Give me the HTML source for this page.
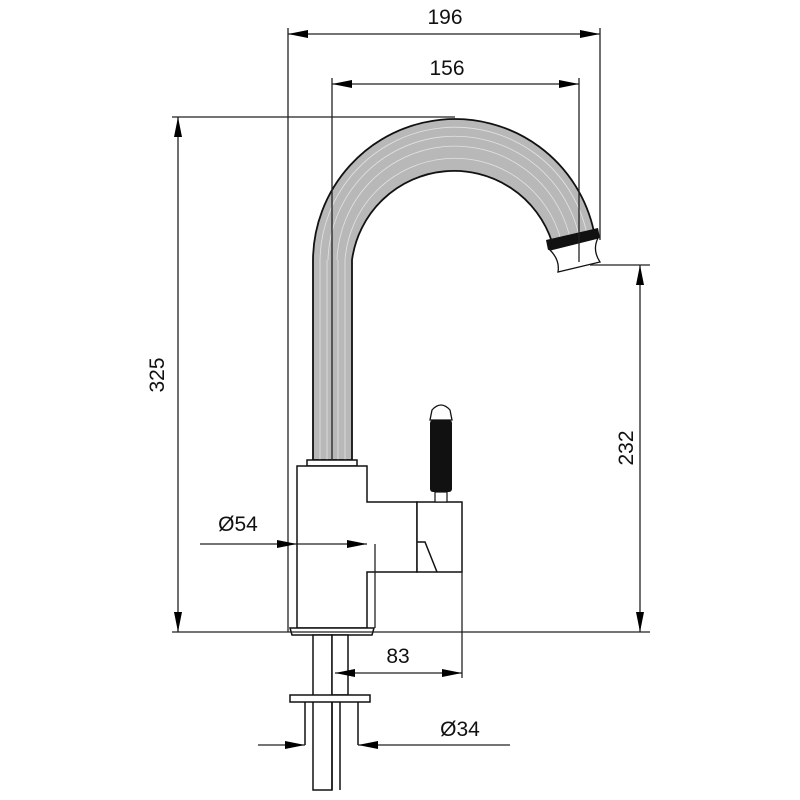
<!DOCTYPE html>
<html><head><meta charset="utf-8"><style>html,body{margin:0;padding:0;background:#fff}svg{display:block}</style></head>
<body>
<svg width="800" height="800" viewBox="0 0 800 800" xmlns="http://www.w3.org/2000/svg" font-family="Liberation Sans, sans-serif">
<defs>
<marker id="a" viewBox="0 0 20 8" refX="20" refY="4" markerWidth="20" markerHeight="8" markerUnits="userSpaceOnUse" orient="auto-start-reverse"><path d="M0,0 L20,4 L0,8 Z" fill="#000"/></marker>
</defs>
<!-- spout -->
<path d="M313,460 L313,260 A142,142 0 0 1 594,232 L552,242 A103,103 0 0 0 352,260 L352,460 Z" fill="#b8b8b8" stroke="#111" stroke-width="1.8"/>
<g stroke="#eee" stroke-width="0.8" fill="none" opacity="0.8">
<line x1="320" y1="260" x2="320" y2="460"/><line x1="327" y1="260" x2="327" y2="460"/><line x1="338" y1="260" x2="338" y2="460"/><line x1="345" y1="260" x2="345" y2="460"/>
<path d="M320,260 A135,135 0 0 1 587,234"/><path d="M328,260 A127,127 0 0 1 579,236"/><path d="M337,260 A118,118 0 0 1 570,238"/><path d="M345,260 A110,110 0 0 1 561,240"/>
</g>
<!-- nozzle -->
<path d="M546,240 L598,228 L600,238 L548,250 Z" fill="#111"/>
<path d="M550,250 L598,238 Q592,250 600,262 L558,272 Q560,260 550,250 Z" fill="#fff" stroke="#111" stroke-width="1.3"/>
<!-- body -->
<g stroke="#111" stroke-width="1.5" fill="#fff">
<rect x="307" y="460" width="50" height="6"/>
<path d="M297,466 L367,466 L367,502 L417,502 L417,572 L367,572 L367,628 L297,628 Z"/>
<rect x="417" y="502" width="45" height="70"/>
<path d="M417,542 L425,542 L437,572"/>
<path d="M290,628 L374,628 L372,635 L292,635 Z"/>
<rect x="313" y="635" width="19" height="155"/>
<rect x="332" y="635" width="16" height="60"/>
<path d="M290,695 L370,695 L370,702 L290,702 Z"/>
<line x1="305" y1="702" x2="305" y2="745" fill="none"/>
<line x1="358" y1="702" x2="358" y2="745" fill="none"/>
<line x1="332" y1="702" x2="332" y2="790"/>
<line x1="340" y1="702" x2="340" y2="790"/>
</g>
<!-- handle -->
<path d="M432,410 Q441,400 450,410 L452,420 L430,420 Z" fill="#fff" stroke="#111" stroke-width="1.3"/>
<rect x="430" y="420" width="22" height="72" rx="3" fill="#111"/>
<rect x="435" y="492" width="12" height="10" fill="#fff" stroke="#111" stroke-width="1.2"/>
<g stroke="#222" stroke-width="1.3" fill="none">
<line x1="288" y1="28" x2="288" y2="632"/>
<line x1="600" y1="28" x2="600" y2="240"/>
<line x1="332" y1="78" x2="332" y2="460"/>
<line x1="579" y1="78" x2="579" y2="262"/>
<line x1="172" y1="117" x2="455" y2="117"/>
<line x1="172" y1="632" x2="650" y2="632"/>
<line x1="590" y1="265" x2="650" y2="265"/>
<line x1="462" y1="572" x2="462" y2="678"/>
<line x1="375" y1="544" x2="375" y2="628"/>
<line x1="288" y1="34" x2="600" y2="34" marker-start="url(#a)" marker-end="url(#a)"/>
<line x1="332" y1="84" x2="579" y2="84" marker-start="url(#a)" marker-end="url(#a)"/>
<line x1="178" y1="117" x2="178" y2="632" marker-start="url(#a)" marker-end="url(#a)"/>
<line x1="640" y1="265" x2="640" y2="632" marker-start="url(#a)" marker-end="url(#a)"/>
<line x1="200" y1="544" x2="297" y2="544" marker-end="url(#a)"/>
<line x1="297" y1="544" x2="367" y2="544" marker-end="url(#a)"/>
<line x1="335" y1="673" x2="462" y2="673" marker-start="url(#a)" marker-end="url(#a)"/>
<line x1="258" y1="745" x2="305" y2="745" marker-end="url(#a)"/>
<line x1="510" y1="745" x2="358" y2="745" marker-end="url(#a)"/>
</g>
<g font-size="21" fill="#111" text-anchor="middle">
<text x="445" y="24">196</text>
<text x="447" y="75">156</text>
<text x="238" y="531">Ø54</text>
<text x="398" y="663">83</text>
<text x="460" y="736">Ø34</text>
<text transform="translate(164,375) rotate(-90)">325</text>
<text transform="translate(633,448) rotate(-90)">232</text>
</g>
</svg>
</body></html>
